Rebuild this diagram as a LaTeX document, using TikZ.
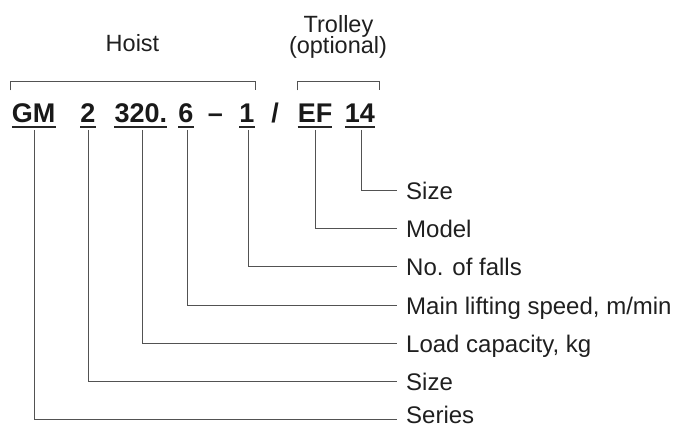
\documentclass[tikz,border=0pt]{standalone}
\usepackage{fontspec}
\setmainfont{Liberation Sans}
\begin{document}
\begin{tikzpicture}[x=1pt,y=-1pt,
  lbl/.style={font=\fontsize{24}{24}\selectfont, text=black!88, inner sep=0pt, anchor=base west},
  hdr/.style={font=\fontsize{23.5}{23.5}\selectfont, text=black!88, inner sep=0pt, anchor=base},
  code/.style={font=\fontsize{27}{27}\selectfont\bfseries, text=black!90, inner sep=0pt, anchor=base},
  conn/.style={draw=black!68, line width=0.9pt},
  uline/.style={draw=black!85, line width=1.3pt}]
\useasboundingbox (0,0) rectangle (681,428);

% headers
\node[hdr] (hoist) at (132.5,51.7) {Hoist};
\node[hdr] (trol) at (338.5,32.5) {Trolley};
\node[hdr] (opt) at (338,54) {(optional)};

% brackets
\coordinate (hL) at (10,90.5);
\coordinate (hR) at (255,90.5);
\coordinate (tL) at (297.7,90.5);
\coordinate (tR) at (379.3,90.5);
\draw[conn] (hL) -- ++(0,-9.5) -| (hR);
\draw[conn] (tL) -- ++(0,-9.5) -| (tR);

% code
\node[code] (gm)   at (33.7,123) {GM};
\node[code] (n2)   at (88,123) {2};
\node[code] (cap)  at (140.8,123) {320.};
\node[code] (spd)  at (186,123) {6};
\node[code] (dash) at (215.5,123) {–};
\node[code] (fal)  at (247,123) {1};
\node[code] (sl)   at (275,123) {/};
\node[code] (ef)   at (315,123) {EF};
\node[code] (sz)   at (360,123) {14};

\foreach \t in {gm,n2,cap,spd,fal,ef,sz}
  \draw[uline] ([yshift=-4pt]\t.base west) -- ([yshift=-4pt]\t.base east);

% end points
\coordinate (e1) at (397,190);
\coordinate (e2) at (397,228.3);
\coordinate (e3) at (397,266.7);
\coordinate (e4) at (397,305);
\coordinate (e5) at (397,343.3);
\coordinate (e6) at (397,381.7);
\coordinate (e7) at (397,419.5);

% labels
\node[lbl] (l1) at ([xshift=9pt,yshift=-9pt]e1) {Size};
\node[lbl] (l2) at ([xshift=9pt,yshift=-9pt]e2) {Model};
\node[lbl] (l3) at ([xshift=9pt,yshift=-9pt]e3) {No. of falls};
\node[lbl] (l4) at ([xshift=9pt,yshift=-9pt]e4) {Main lifting speed, m/min};
\node[lbl] (l5) at ([xshift=9pt,yshift=-9pt]e5) {Load capacity, kg};
\node[lbl] (l6) at ([xshift=9pt,yshift=-9pt]e6) {Size};
\node[lbl] (l7) at ([xshift=9pt,yshift=-4pt]e7) {Series};

% connectors
\draw[conn] ([xshift=1pt,yshift=-7pt]sz.base)  |- (e1);
\draw[conn] ([xshift=0.7pt,yshift=-7pt]ef.base)  |- (e2);
\draw[conn] ([xshift=1.3pt,yshift=-7pt]fal.base) |- (e3);
\draw[conn] ([xshift=1.3pt,yshift=-7pt]spd.base) |- (e4);
\draw[conn] ([xshift=1.9pt,yshift=-7pt]cap.base) |- (e5);
\draw[conn] ([xshift=0.3pt,yshift=-7pt]n2.base)  |- (e6);
\draw[conn] ([xshift=0.6pt,yshift=-7pt]gm.base)  |- (e7);
\end{tikzpicture}
\end{document}
